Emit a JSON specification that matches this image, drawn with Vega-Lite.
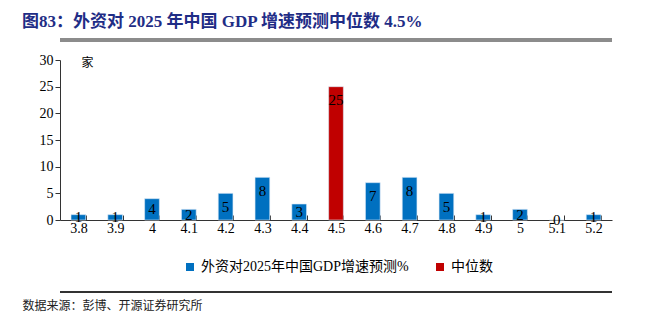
{
  "$schema": "https://vega.github.io/schema/vega-lite/v6.json",
  "autosize": {"type": "none"},
  "width": 552,
  "height": 160,
  "padding": {"left": 60, "top": 60, "right": 38, "bottom": 110},
  "background": "white",
  "config": {"view": {"stroke": null}},
  "title": {
    "text": "图83：外资对 2025 年中国 GDP 增速预测中位数 4.5%",
    "anchor": "start",
    "frame": "group",
    "dx": -38,
    "offset": 8,
    "font": "Liberation Serif, Noto Sans CJK SC",
    "fontSize": 17,
    "fontWeight": "bold",
    "color": "#1F2D86"
  },
  "data": {
    "values": [
      {"x": "3.8", "count": 1, "series": "外资对2025年中国GDP增速预测%"},
      {"x": "3.9", "count": 1, "series": "外资对2025年中国GDP增速预测%"},
      {"x": "4", "count": 4, "series": "外资对2025年中国GDP增速预测%"},
      {"x": "4.1", "count": 2, "series": "外资对2025年中国GDP增速预测%"},
      {"x": "4.2", "count": 5, "series": "外资对2025年中国GDP增速预测%"},
      {"x": "4.3", "count": 8, "series": "外资对2025年中国GDP增速预测%"},
      {"x": "4.4", "count": 3, "series": "外资对2025年中国GDP增速预测%"},
      {"x": "4.5", "count": 25, "series": "中位数"},
      {"x": "4.6", "count": 7, "series": "外资对2025年中国GDP增速预测%"},
      {"x": "4.7", "count": 8, "series": "外资对2025年中国GDP增速预测%"},
      {"x": "4.8", "count": 5, "series": "外资对2025年中国GDP增速预测%"},
      {"x": "4.9", "count": 1, "series": "外资对2025年中国GDP增速预测%"},
      {"x": "5", "count": 2, "series": "外资对2025年中国GDP增速预测%"},
      {"x": "5.1", "count": 0, "series": "外资对2025年中国GDP增速预测%"},
      {"x": "5.2", "count": 1, "series": "外资对2025年中国GDP增速预测%"}
    ]
  },
  "encoding": {
    "x": {
      "field": "x",
      "type": "ordinal",
      "sort": null,
      "scale": {"paddingInner": 0.6, "paddingOuter": 0.3},
      "axis": {
        "labelAngle": 0,
        "labelFont": "Liberation Serif",
        "labelFontSize": 14,
        "labelColor": "#000",
        "labelPadding": 6,
        "labelOverlap": false,
        "tickBand": "extent",
        "tickSize": -5,
        "tickColor": "#333",
        "domainColor": "#333",
        "title": "数据来源：彭博、开源证券研究所",
        "titleFont": "Noto Sans CJK SC",
        "titleFontSize": 12,
        "titleFontWeight": "normal",
        "titleColor": "#222",
        "titleAnchor": "start",
        "titleAlign": "left",
        "titleBaseline": "middle",
        "titleX": -38,
        "titleY": 85
      }
    }
  },
  "layer": [
    {
      "mark": {"type": "bar", "stroke": "#dbe9f6", "strokeWidth": 0.6},
      "encoding": {
        "y": {
          "field": "count",
          "type": "quantitative",
          "scale": {"domain": [0, 30], "nice": false},
          "axis": {
            "tickCount": 7,
            "tickMinStep": 5,
            "labelOverlap": false,
            "labelBound": false,
            "grid": false,
            "labelFont": "Liberation Serif",
            "labelFontSize": 14,
            "labelColor": "#000",
            "tickColor": "#333",
            "tickSize": 5,
            "domainColor": "#333",
            "title": "家",
            "titleAngle": 0,
            "titleFont": "Noto Sans CJK SC",
            "titleFontSize": 12,
            "titleFontWeight": "normal",
            "titleColor": "#000",
            "titleX": 27,
            "titleY": 2,
            "titleBaseline": "middle",
            "titleAlign": "center"
          }
        },
        "color": {
          "field": "series",
          "type": "nominal",
          "scale": {
            "domain": ["外资对2025年中国GDP增速预测%", "中位数"],
            "range": ["#0070C0", "#C00000"]
          },
          "legend": {
            "title": null,
            "orient": "none",
            "legendX": 123,
            "legendY": 200,
            "direction": "horizontal",
            "symbolType": "square",
            "symbolSize": 64,
            "symbolStrokeWidth": 0,
            "labelFont": "Liberation Serif, Noto Sans CJK SC",
            "labelFontSize": 14,
            "labelLimit": 400,
            "labelColor": "#000",
            "columnPadding": 24
          }
        }
      }
    },
    {
      "transform": [
        {"calculate": "datum.count < 6 ? datum.count / 2 : datum.count - 2.5", "as": "labelY"}
      ],
      "mark": {"type": "text", "font": "Liberation Serif", "fontSize": 15, "color": "#000", "baseline": "middle"},
      "encoding": {
        "y": {"field": "labelY", "type": "quantitative"},
        "text": {"field": "count", "type": "quantitative"}
      }
    },
    {
      "mark": {"type": "rule", "color": "#8c8c8c", "strokeWidth": 2.5},
      "encoding": {"y": {"datum": 33.75}, "x": null}
    },
    {
      "mark": {"type": "rule", "color": "#333", "strokeWidth": 1},
      "encoding": {"y": {"datum": -13.5}, "x": null}
    }
  ]
}
